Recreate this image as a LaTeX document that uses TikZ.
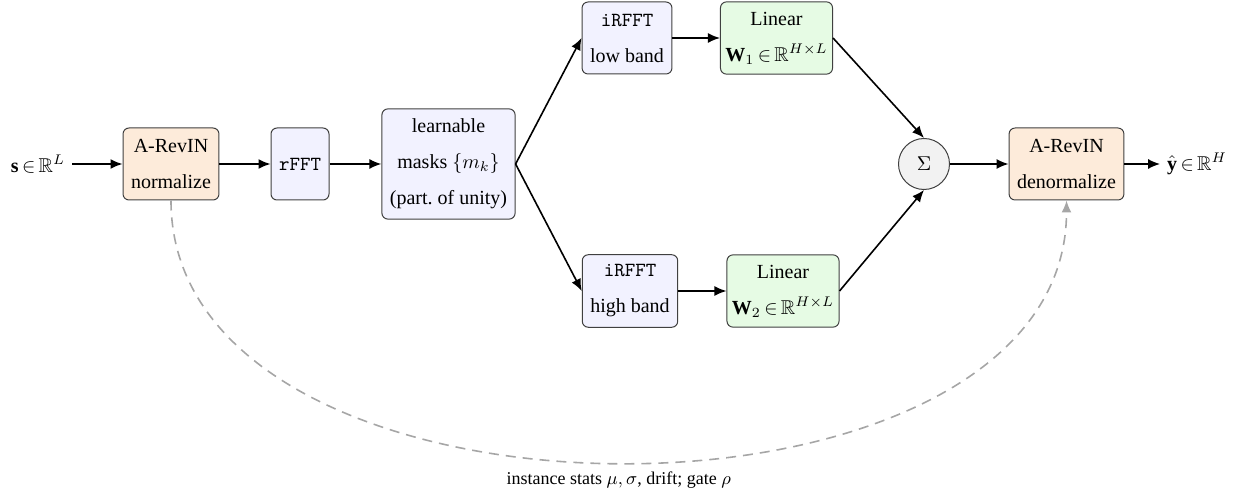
\documentclass[tikz,border=0pt]{standalone}
\usepackage{amssymb}
\usepackage{fontspec}
\setmainfont{Liberation Serif}
\usetikzlibrary{arrows.meta}
\definecolor{peach}{HTML}{FDEBDA}
\definecolor{lav}{HTML}{F2F2FF}
\definecolor{mint}{HTML}{E6FBE4}
\tikzset{
  blk/.style={draw=black!75, rounded corners=3pt, line width=0.5pt, align=center, inner xsep=4pt, inner ysep=5pt, minimum height=36pt},
  revin/.style={blk, fill=peach},
  fft/.style={blk, fill=lav},
  lin/.style={blk, fill=mint, inner xsep=2.5pt},
  sumc/.style={circle, draw=black!75, fill=black!5, line width=0.5pt, minimum size=25.5pt, inner sep=0pt},
  flow/.style={-{Latex[length=6pt,width=5pt]}, line width=0.8pt},
  stats/.style={-{Latex[length=6pt,width=5pt]}, line width=0.8pt, draw=black!35, dash pattern=on 5pt off 3.5pt},
}
\begin{document}
\begin{tikzpicture}[x=0.5pt,y=-0.5pt]
\useasboundingbox (0,0) rectangle (1252,496);
\node (s) at (38,164) {$\mathbf{s}\,{\in}\,\mathbb{R}^{L}$};
\node[revin] (norm) at (171,164) {A-RevIN\\[6pt]normalize};
\node[fft] (rfft) at (300,164) {\texttt{rFFT}};
\node[fft] (mask) at (448.5,164) {learnable\\[6pt]masks $\{m_k\}$\\[6pt](part.\ of unity)};
\node[fft] (low) at (627,38) {\texttt{iRFFT}\\[6pt]low band};
\node[lin] (lin1) at (776.5,38) {Linear\\[6pt]$\mathbf{W}_1\,{\in}\,\mathbb{R}^{H\times L}$};
\node[fft] (high) at (630,291) {\texttt{iRFFT}\\[6pt]high band};
\node[lin] (lin2) at (783,291) {Linear\\[6pt]$\mathbf{W}_2\,{\in}\,\mathbb{R}^{H\times L}$};
\node[sumc] (sum) at (924,164) {$\Sigma$};
\node[revin] (denorm) at (1066.5,164) {A-RevIN\\[6pt]denormalize};
\node (y) at (1197,164) {$\hat{\mathbf{y}}\,{\in}\,\mathbb{R}^{H}$};
\draw[flow] (s) -- (norm);
\draw[flow] (norm) -- (rfft);
\draw[flow] (rfft) -- (mask);
\draw[flow] (mask.east) -- (low.west);
\draw[flow] (mask.east) -- (high.west);
\draw[flow] (low) -- (lin1);
\draw[flow] (high) -- (lin2);
\draw[flow] (lin1.east) -- (sum.north);
\draw[flow] (lin2.east) -- (sum.south);
\draw[flow] (sum) -- (denorm);
\draw[flow] (denorm) -- (y);
\draw[stats] (norm.south) to[out=-90,in=-90] node[below, text=black, font=\small, yshift=-1pt] {instance stats $\mu,\sigma$, drift; gate $\rho$} (denorm.south);
\end{tikzpicture}
\end{document}
